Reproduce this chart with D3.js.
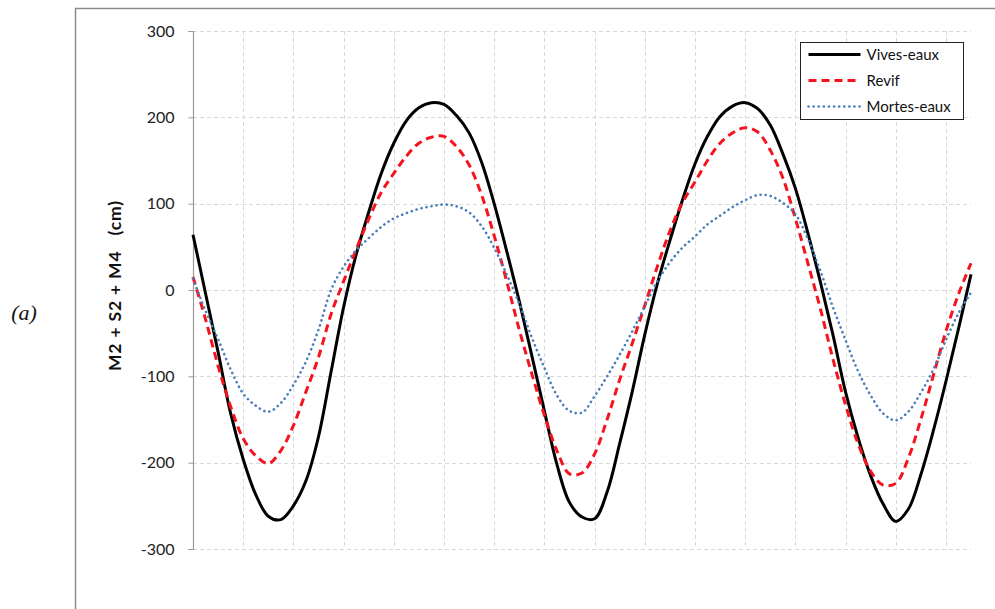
<!DOCTYPE html>
<html>
<head>
<meta charset="utf-8">
<script src="https://cdn.jsdelivr.net/npm/d3@7"></script>
<style>
  html, body { margin: 0; padding: 0; background: #fff; }
  svg { display: block; }
</style>
</head>
<body>
<svg id="chart" width="995" height="609"></svg>
<script>
// Time in hours (at 0.5 h steps)
const hours = [0,0.5,1,1.5,2,2.5,3,3.5,4,4.5,5,5.5,6,6.5,7,7.5,8,8.5,9,9.5,10,10.5,11,11.5,12,12.5,13,13.5,14,14.5,15,15.5,16,16.5,17,17.5,18,18.5,19,19.5,20,20.5,21,21.5,22,22.5,23,23.5,24,24.5,25,25.5,26,26.5,27,27.5,28,28.5,29,29.5,30,30.5,31];

const vivesEaux = [64,-4,-72,-143,-196,-237,-262,-266,-250,-221,-170,-95,-20,41,90,135,170,196,211,217,215,202,182,148,100,45,-13,-76,-140,-202,-246,-263,-265,-234,-178,-118,-52,7,57,104,146,178,201,213,217,210,191,158,118,66,9,-52,-118,-171,-215,-248,-268,-254,-214,-163,-106,-45,18];

const revif = [15,-34,-88,-135,-172,-192,-201,-186,-157,-118,-78,-28,10,47,82,113,135,155,170,177,178,166,145,110,63,10,-46,-97,-145,-186,-213,-212,-190,-150,-104,-62,-18,27,68,101,125,150,170,182,188,183,162,130,83,31,-22,-80,-133,-178,-210,-226,-224,-195,-150,-99,-48,-5,31];

const mortesEaux = [13,-24,-57,-92,-120,-134,-141,-131,-110,-83,-46,0,27,46,60,73,83,89,94,97,99,97,90,74,49,18,-16,-55,-90,-122,-140,-142,-123,-100,-75,-48,-19,10,32,49,62,76,86,96,104,110,109,101,88,59,22,-20,-58,-94,-122,-143,-151,-141,-119,-92,-58,-27,-3];

const seriesNames = ["Vives-eaux", "Revif", "Mortes-eaux"];
const yTicks = [-300,-200,-100,0,100,200,300];
const xGrid = [2,4,6,8,10,12,14,16,18,20,22,24,26,28,30];
const yTitle = "M2 + S2 + M4\u00a0\u00a0\u00a0(cm)";
const panelLabel = "(a)";

const styles = [
  {color: "#000000", width: 3, dash: null, cap: "butt"},
  {color: "#f5141e", width: 3, dash: "8,5", cap: "butt"},
  {color: "#4a7ebb", width: 2.6, dash: "0.1,5", cap: "round"}
];
const data = [vivesEaux, revif, mortesEaux];

const svg = d3.select("#chart");
const x = d3.scaleLinear().domain([0, 31]).range([193, 971]);
const y = d3.scaleLinear().domain([-300, 300]).range([549, 31]);
const font = "Lato, 'Open Sans', 'Noto Sans', sans-serif";

// outer frame
svg.append("path")
  .attr("d", "M75.5,609 L75.5,8.5 L995,8.5")
  .attr("fill", "none").attr("stroke", "#8c8c8c").attr("stroke-width", 1.5);

// panel label
svg.append("text").text(panelLabel)
  .attr("x", 24).attr("y", 320)
  .attr("text-anchor", "middle")
  .attr("font-family", "'Liberation Serif', 'DejaVu Serif', serif")
  .attr("font-style", "italic").attr("font-size", 22).attr("fill", "#111");

// grid
const grid = svg.append("g");
grid.selectAll("line.h").data(yTicks).join("line")
  .attr("x1", x(0)).attr("x2", x(31))
  .attr("y1", d => Math.round(y(d)) + 0.5).attr("y2", d => Math.round(y(d)) + 0.5)
  .attr("stroke", "#d9d9d9").attr("stroke-width", 1).attr("stroke-dasharray", "4,3");
grid.selectAll("line.v").data(xGrid).join("line")
  .attr("x1", d => Math.round(x(d)) + 0.5).attr("x2", d => Math.round(x(d)) + 0.5)
  .attr("y1", y(300)).attr("y2", y(-300))
  .attr("stroke", "#d9d9d9").attr("stroke-width", 1).attr("stroke-dasharray", "4,3");

// y axis
const yAxis = d3.axisLeft(y).tickValues(yTicks).tickSize(5).tickPadding(14).tickFormat(d => String(d));
const ga = svg.append("g").attr("transform", "translate(193.5,0)").call(yAxis);
ga.select(".domain").attr("stroke", "#999").attr("stroke-width", 1.2)
  .attr("d", `M-5,${y(300)+0.5}H0V${y(-300)+0.5}H-5`);
ga.selectAll(".tick line").attr("stroke", "#999");
ga.selectAll(".tick text")
  .attr("font-family", font)
  .attr("font-size", 16).attr("fill", "#222");

// y title
svg.append("text").text(yTitle)
  .attr("transform", `translate(121,${y(0) - 4}) rotate(-90)`)
  .attr("text-anchor", "middle")
  .attr("font-family", font)
  .attr("font-weight", "bold").attr("font-size", 17.5).attr("fill", "#111")
  .attr("textLength", 170).attr("lengthAdjust", "spacing");

// lines
const line = d3.line()
  .x((d, i) => x(hours[i]))
  .y(d => y(d))
  .curve(d3.curveCatmullRom.alpha(0.5));

svg.append("g").selectAll("path").data(data).join("path")
  .attr("d", d => line(d))
  .attr("fill", "none")
  .attr("stroke", (d, i) => styles[i].color)
  .attr("stroke-width", (d, i) => styles[i].width)
  .attr("stroke-dasharray", (d, i) => styles[i].dash)
  .attr("stroke-linecap", (d, i) => styles[i].cap)
  .attr("stroke-linejoin", "round");

// legend
const lg = svg.append("g").attr("transform", "translate(800.5,42.5)");
lg.append("rect").attr("width", 163).attr("height", 77)
  .attr("fill", "#fff").attr("stroke", "#222").attr("stroke-width", 1);
const rows = lg.selectAll("g").data(seriesNames).join("g")
  .attr("transform", (d, i) => `translate(0,${12 + i * 26})`);
rows.append("line").attr("x1", 8).attr("x2", 60).attr("y1", 0).attr("y2", 0)
  .attr("stroke", (d, i) => styles[i].color)
  .attr("stroke-width", (d, i) => styles[i].width)
  .attr("stroke-dasharray", (d, i) => styles[i].dash)
  .attr("stroke-linecap", (d, i) => styles[i].cap);
rows.append("text").text(d => d)
  .attr("x", 66).attr("y", 5)
  .attr("font-family", font)
  .attr("font-size", 15).attr("fill", "#111");
</script>
</body>
</html>
